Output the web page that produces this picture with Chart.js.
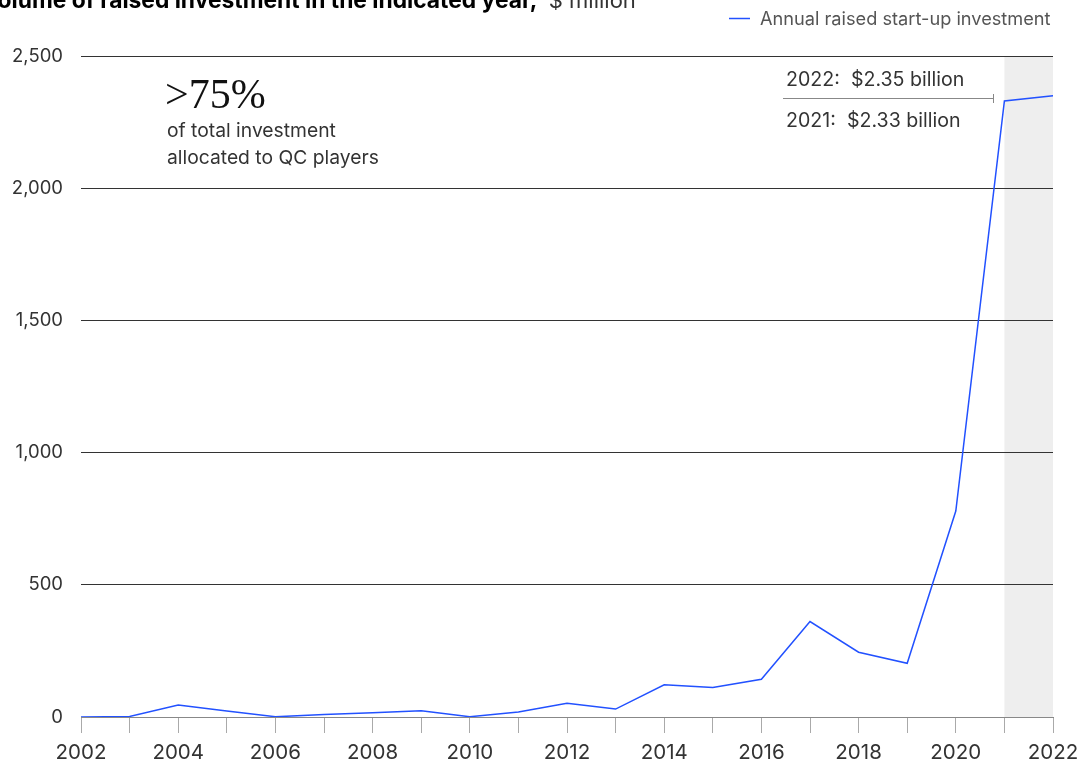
<!DOCTYPE html>
<html>
<head>
<meta charset="utf-8">
<script src="https://cdn.jsdelivr.net/npm/chart.js@4"></script>
<style>
    html, body { margin: 0; padding: 0; background: #fff; }
    #wrap { width: 1087px; height: 766px; position: relative; }
</style>
</head>
<body>
<div id="wrap"><canvas id="chart" width="1087" height="766"></canvas></div>
<script>
// Data ($ million)
const years = ['2002', '2003', '2004', '2005', '2006', '2007', '2008', '2009', '2010', '2011',
    '2012', '2013', '2014', '2015', '2016', '2017', '2018', '2019', '2020', '2021', '2022'];
const investment = [0, 2, 45, 23, 1, 9, 16, 24, 1, 19,
    52, 30, 122, 112, 143, 361, 245, 203, 779, 2330, 2350];
const yTicks = [0, 500, 1000, 1500, 2000, 2500];
const shadedFrom = '2021';
const shadedTo = '2022';

const titleBold = 'Volume of raised investment in the indicated year,';
const titleUnit = '$ million';
const legendLabel = 'Annual raised start-up investment';
const calloutBig = '>75%';
const calloutLines = ['of total investment', 'allocated to QC players'];
const noteTop = '2022:  $2.35 billion';
const noteBottom = '2021:  $2.33 billion';

const FONT = 'Inter, "Liberation Sans", sans-serif';
const BLUE = '#2251ff';
const TEXT = '#333333';

// Grey band behind the last year (drawn before the grid so grid lines cross it)
const bandPlugin = {
    id: 'band',
    beforeDraw(chart) {
        const { ctx, chartArea, scales } = chart;
        const x1 = scales.x.getPixelForValue(years.indexOf(shadedFrom));
        const x2 = scales.x.getPixelForValue(years.indexOf(shadedTo));
        ctx.save();
        ctx.fillStyle = '#eeeeee';
        ctx.fillRect(x1, chartArea.top, x2 - x1, chartArea.bottom - chartArea.top);
        ctx.restore();
    }
};

// Title, legend and text annotations
const textPlugin = {
    id: 'texts',
    afterDraw(chart) {
        const ctx = chart.ctx;
        ctx.save();
        ctx.textBaseline = 'alphabetic';
        ctx.textAlign = 'left';

        // title, cut off at the left/top edge like the source
        ctx.fillStyle = '#000';
        ctx.font = 'bold 22.8px ' + FONT;
        const vw = ctx.measureText('V').width;
        const tx = -vw - 1;
        ctx.fillText(titleBold, tx, 8);
        const bw = ctx.measureText(titleBold + ' ').width;
        ctx.font = '22px ' + FONT;
        ctx.fillStyle = '#333';
        ctx.fillText(titleUnit, tx + bw + 6, 8);

        // legend
        ctx.strokeStyle = BLUE;
        ctx.lineWidth = 1.5;
        ctx.beginPath();
        ctx.moveTo(729, 18.5);
        ctx.lineTo(750, 18.5);
        ctx.stroke();
        ctx.font = '18.2px ' + FONT;
        ctx.fillStyle = '#555';
        ctx.fillText(legendLabel, 760, 25);

        // >75% callout
        ctx.fillStyle = '#111';
        ctx.font = '42px "Liberation Serif", "DejaVu Serif", serif';
        ctx.fillText(calloutBig, 165, 108);
        ctx.font = '19.3px ' + FONT;
        ctx.fillStyle = TEXT;
        ctx.fillText(calloutLines[0], 167, 137);
        ctx.fillText(calloutLines[1], 167, 164);

        // 2021 / 2022 note
        ctx.font = '19.6px ' + FONT;
        ctx.fillText(noteTop, 786, 86);
        ctx.fillText(noteBottom, 786, 127);
        ctx.strokeStyle = '#888';
        ctx.lineWidth = 1;
        ctx.beginPath();
        ctx.moveTo(783, 98.5);
        ctx.lineTo(994, 98.5);
        ctx.moveTo(993.5, 94);
        ctx.lineTo(993.5, 103);
        ctx.stroke();
        ctx.restore();
    }
};

new Chart(document.getElementById('chart'), {
    type: 'line',
    data: {
        labels: years,
        datasets: [{
            label: legendLabel,
            data: investment,
            borderColor: BLUE,
            borderWidth: 1.5,
            pointRadius: 0,
            tension: 0,
            fill: false
        }]
    },
    options: {
        responsive: false,
        animation: false,
        layout: { padding: { top: 56, right: 34, left: 0, bottom: 0 } },
        plugins: {
            legend: { display: false },
            tooltip: { enabled: false }
        },
        scales: {
            x: {
                type: 'category',
                offset: false,
                afterFit(scale) { scale.height = 49; },
                border: { display: true, color: '#888', width: 1 },
                grid: {
                    display: true,
                    drawOnChartArea: false,
                    drawTicks: true,
                    tickLength: 16,
                    color: '#aaa'
                },
                ticks: {
                    autoSkip: false,
                    maxRotation: 0,
                    padding: 8,
                    color: TEXT,
                    font: { family: FONT, size: 20.5 },
                    callback(value, index) {
                        return index % 2 === 0 ? years[index] : '';
                    }
                }
            },
            y: {
                min: 0,
                max: 2500,
                afterFit(scale) { scale.width = 81; },
                afterBuildTicks(scale) {
                    scale.ticks = yTicks.map(v => ({ value: v }));
                },
                border: { display: false },
                grid: {
                    drawTicks: false,
                    lineWidth: 1,
                    color(ctx) {
                        return ctx.tick && ctx.tick.value === 0 ? '#888' : '#333';
                    }
                },
                ticks: {
                    padding: 18,
                    color: TEXT,
                    font: { family: FONT, size: 18.5 },
                    callback(value) {
                        return value.toLocaleString('en-US');
                    }
                }
            }
        }
    },
    plugins: [bandPlugin, textPlugin]
});
</script>
</body>
</html>
